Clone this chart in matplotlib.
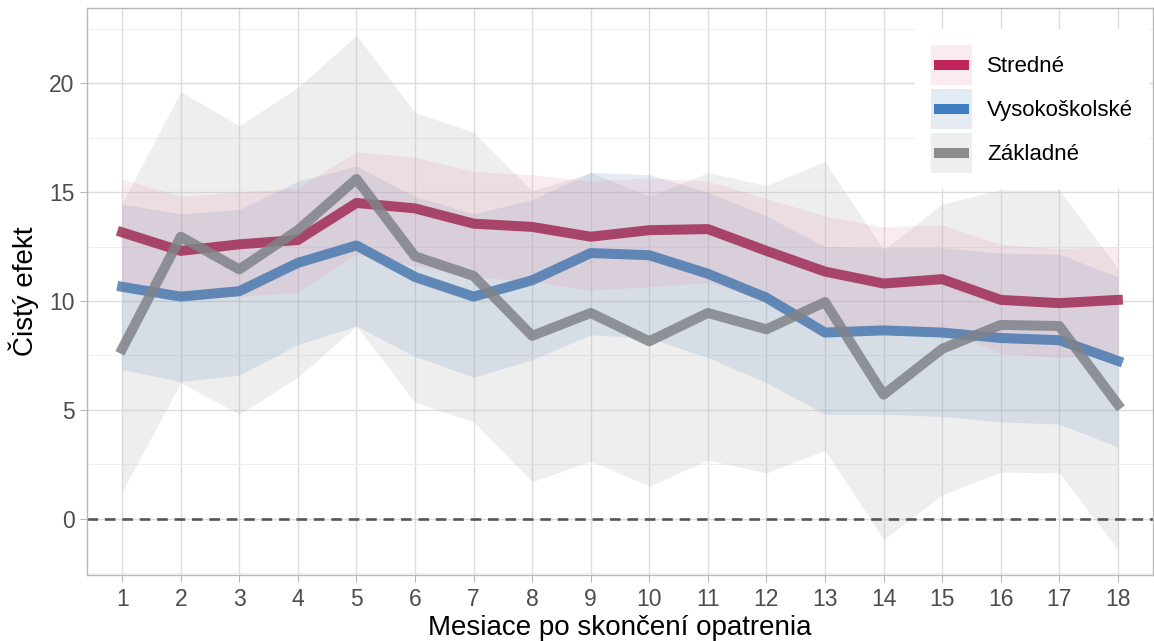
import matplotlib.pyplot as plt
from matplotlib.patches import Rectangle
from matplotlib.lines import Line2D
from matplotlib.ticker import MultipleLocator

plt.rcParams['font.family'] = ['Liberation Sans', 'DejaVu Sans']

# Data
mesiace = list(range(1, 19))

stredne = [13.15, 12.3, 12.6, 12.8, 14.5, 14.25, 13.55, 13.4, 12.95, 13.25, 13.3, 12.3, 11.35, 10.8, 11.0, 10.05, 9.9, 10.05]
stredne_hi = [15.6, 14.8, 15.0, 15.2, 16.85, 16.6, 15.95, 15.8, 15.5, 15.65, 15.5, 14.7, 13.9, 13.4, 13.5, 12.6, 12.4, 12.5]
stredne_lo = [10.8, 10.1, 10.2, 10.4, 12.15, 11.6, 11.1, 10.9, 10.5, 10.65, 10.85, 10.0, 8.8, 8.8, 8.7, 7.6, 7.4, 7.6]

vysoko = [10.65, 10.2, 10.45, 11.75, 12.55, 11.1, 10.2, 10.95, 12.2, 12.1, 11.25, 10.15, 8.55, 8.65, 8.55, 8.3, 8.2, 7.25]
vysoko_hi = [14.45, 14.0, 14.2, 15.5, 16.2, 14.8, 14.0, 14.65, 15.9, 15.8, 15.0, 13.9, 12.5, 12.45, 12.45, 12.2, 12.15, 11.1]
vysoko_lo = [6.85, 6.3, 6.6, 8.0, 8.85, 7.45, 6.5, 7.3, 8.45, 8.3, 7.4, 6.25, 4.8, 4.8, 4.7, 4.45, 4.35, 3.3]

zakladne = [7.8, 12.95, 11.45, 13.25, 15.6, 12.05, 11.15, 8.4, 9.45, 8.15, 9.45, 8.7, 9.95, 5.7, 7.8, 8.9, 8.85, 5.25]
zakladne_hi = [14.5, 19.6, 18.05, 19.8, 22.2, 18.65, 17.75, 15.05, 15.9, 14.8, 15.9, 15.3, 16.4, 12.35, 14.45, 15.1, 15.1, 11.5]
zakladne_lo = [1.25, 6.25, 4.8, 6.5, 8.85, 5.35, 4.45, 1.7, 2.65, 1.5, 2.7, 2.1, 3.15, -0.95, 1.1, 2.15, 2.1, -1.4]

nazvy = ['Stredné', 'Vysokoškolské', 'Základné']

# colours
fill_c = {'Stredné': ('#e596b0', 0.19), 'Vysokoškolské': ('#4f7fb0', 0.15), 'Základné': ('#bdbdbd', 0.25)}
line_c = {'Stredné': '#a02c55', 'Vysokoškolské': '#4b79b0', 'Základné': '#808389'}
key_c = {'Stredné': '#c2255c', 'Vysokoškolské': '#3f7fbf', 'Základné': '#8c8c8c'}
lw = 7.2


class Key:
    def __init__(self, name):
        self.name = name


class KeyHandler:
    # legend key: band colour as background, thick line through the middle
    def legend_artist(self, legend, orig_handle, fontsize, handlebox):
        x0, y0 = -handlebox.xdescent, -handlebox.ydescent
        w, h = handlebox.width, handlebox.height
        n = orig_handle.name
        rect = Rectangle((x0, y0), w, h, facecolor=fill_c[n][0], alpha=fill_c[n][1],
                         edgecolor='none', transform=handlebox.get_transform())
        ln = Line2D([x0 + 2, x0 + w - 2], [y0 + h / 2, y0 + h / 2], color=key_c[n],
                    lw=lw, solid_capstyle='butt', transform=handlebox.get_transform())
        handlebox.add_artist(rect)
        handlebox.add_artist(ln)
        return rect


fig = plt.figure(figsize=(11.54, 6.41), dpi=100)
ax = fig.add_axes([87 / 1154, 1 - 575 / 641, (1153 - 87) / 1154, (575 - 8) / 641])

# grid
ax.yaxis.set_major_locator(MultipleLocator(5))
ax.yaxis.set_minor_locator(MultipleLocator(2.5))
ax.set_xticks(mesiace)
ax.grid(which='major', color='#dcdcdc', linewidth=1.0, zorder=0)
ax.grid(which='minor', axis='y', color='#eeeeee', linewidth=0.8, zorder=0)
ax.set_axisbelow(True)

# bands
ax.fill_between(mesiace, zakladne_lo, zakladne_hi, color=fill_c['Základné'][0],
                alpha=fill_c['Základné'][1], linewidth=0, zorder=1)
ax.fill_between(mesiace, vysoko_lo, vysoko_hi, color=fill_c['Vysokoškolské'][0],
                alpha=fill_c['Vysokoškolské'][1], linewidth=0, zorder=1)
ax.fill_between(mesiace, stredne_lo, stredne_hi, color=fill_c['Stredné'][0],
                alpha=fill_c['Stredné'][1], linewidth=0, zorder=1)

# zero line
ax.axhline(0, color='#555555', linewidth=1.9, linestyle=(0, (4, 2.6)), zorder=2)

# lines
ax.plot(mesiace, stredne, color=line_c['Stredné'], lw=lw, alpha=0.85, zorder=3)
ax.plot(mesiace, vysoko, color=line_c['Vysokoškolské'], lw=lw, alpha=0.85, zorder=3)
ax.plot(mesiace, zakladne, color=line_c['Základné'], lw=lw, alpha=0.85, zorder=3)

ax.set_xlim(0.4, 18.6)
ax.set_ylim(-2.58, 23.45)

for s in ax.spines.values():
    s.set_color('#b8b8b8')
    s.set_linewidth(1.0)
ax.tick_params(which='major', length=5, width=0.8, color='#b8b8b8',
               labelsize=16.5, labelcolor='#4d4d4d', pad=4)
ax.tick_params(which='minor', length=0)

ax.set_xlabel('Mesiace po skončení opatrenia', fontsize=20, color='black', labelpad=3)
ax.set_ylabel('Čistý efekt', fontsize=20, color='black', labelpad=7)

# legend
fs = 16
px = fs * 100 / 72
key_h = 40 / px
# matplotlib shrinks the handle box by 0.35*fs*(handleheight-0.7)
hh = (key_h - 0.245) / 0.65
leg = fig.legend([Key(n) for n in nazvy], nazvy, handler_map={Key: KeyHandler()},
                 loc='upper left', bbox_to_anchor=(915 / 1154, 1 - 29 / 641),
                 fontsize=fs, frameon=True, fancybox=False,
                 handlelength=41 / px, handleheight=hh,
                 labelspacing=4 / px, handletextpad=15 / px, borderpad=16 / px,
                 borderaxespad=0)
leg.get_frame().set_facecolor('white')
leg.get_frame().set_edgecolor('none')
leg.get_frame().set_alpha(1)

plt.savefig('out.png', dpi=100)
